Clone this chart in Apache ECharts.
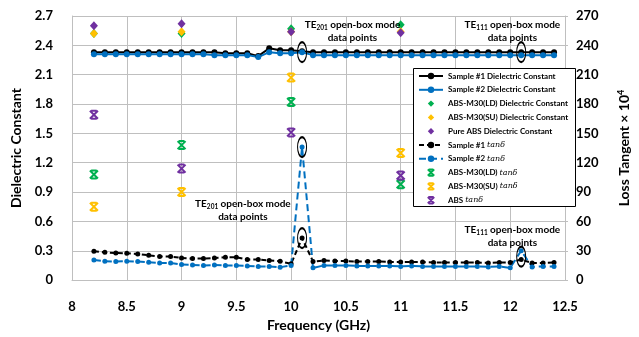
<!DOCTYPE html>
<html><head><meta charset="utf-8">
<script src="https://cdn.jsdelivr.net/npm/echarts@6/dist/echarts.min.js"></script>
<style>html,body{margin:0;padding:0;background:#fff}#c{width:639px;height:337px}</style>
</head><body><div id="c"></div>
<script>
const freq = [8.2,8.3,8.4,8.5,8.6,8.7,8.8,8.9,9.0,9.1,9.2,9.3,9.4,9.5,9.6,9.7,9.8,9.9,10.0,10.1,10.2,10.3,10.4,10.5,10.6,10.7,10.8,10.9,11.0,11.1,11.2,11.3,11.4,11.5,11.6,11.7,11.8,11.9,12.0,12.1,12.2,12.3,12.4];
const s1DC = [2.33,2.33,2.33,2.33,2.33,2.33,2.33,2.33,2.33,2.33,2.33,2.33,2.32,2.32,2.32,2.29,2.37,2.35,2.35,2.34,2.33,2.33,2.33,2.33,2.33,2.33,2.33,2.33,2.33,2.33,2.33,2.33,2.33,2.33,2.33,2.33,2.33,2.33,2.33,2.33,2.33,2.33,2.33];
const s2DC = [2.31,2.31,2.31,2.31,2.31,2.31,2.31,2.31,2.31,2.31,2.31,2.30,2.30,2.30,2.30,2.28,2.33,2.32,2.32,2.33,2.30,2.30,2.30,2.30,2.30,2.30,2.30,2.30,2.30,2.30,2.30,2.30,2.30,2.30,2.30,2.30,2.30,2.30,2.30,2.30,2.30,2.30,2.30];
const s1Tan = [29.4,28.4,27.7,27.4,26.7,25.4,24.0,24.0,22.7,22.0,22.0,22.7,23.4,23.4,21.0,21.0,20.0,19.3,16.6,43,19,20,19.5,19.5,19,19,19,18.5,18.5,18.5,18.5,18,18,18,18,18,17.5,18,18,21,17.5,17.5,18];
const s2Tan = [20.6,19.3,18.9,19.3,18.9,18.3,17.6,17.6,15.9,15.5,14.9,15.5,14.9,14.9,14.5,13.9,13.9,13.2,14.9,136,12.5,15,15,15,14.5,14.5,14.5,14.5,14,14.5,14,14,14,14,14,14,13.5,14,12.5,30,13.5,14,14];
const refFreq = [8.2, 9, 10, 11];
const ldDC = [2.52, 2.52, 2.57, 2.61];
const suDC = [2.52, 2.54, 2.54, 2.54];
const absDC = [2.60, 2.62, 2.54, 2.53];
const ldTan = [108, 138, 182, 98];
const suTan = [75, 90, 207, 130];
const absTan = [169, 114, 151, 107];
const leftTicks = {min:0, max:2.7, interval:0.3};
const rightTicks = {min:0, max:270, interval:30};
const xTicks = {min:8, max:12.5, interval:0.5};

const FONT = 'Lato';
const BLACK = '#000000', BLUE = '#0070C0', GREEN = '#00B050', YELLOW = '#FFC000', PURPLE = '#7030A0';
const zip = (xs, ys) => xs.map((x, i) => [x, ys[i]]);
const CROSS = 'path://M0,0L10,10M10,0L0,10M1.5,0L8.5,0M1.5,10L8.5,10';

const ellipse = (coords) => ({
  symbol: 'circle', symbolSize: [9, 20], silent: true,
  itemStyle: {color: 'rgba(0,0,0,0)', borderColor: '#000', borderWidth: 1.5},
  label: {show: false},
  data: coords.map(c => ({coord: c}))
});
const pointsOnly = (name, xs, ys, axis, symbol, size, style) => ({
  name, type: 'line', yAxisIndex: axis, data: zip(xs, ys), symbol, symbolSize: size,
  showAllSymbol: true, itemStyle: style, lineStyle: {width: 0, opacity: 0}
});

const chart = echarts.init(document.getElementById('c'));
const axisLabel = {fontFamily: FONT, fontWeight: 'bold', fontSize: 13, color: '#000'};
const nameStyle = {fontFamily: FONT, fontWeight: 'bold', fontSize: 14, color: '#000'};

chart.setOption({
  animation: false,
  grid: {left: 72, right: 61, top: 16, bottom: 54},
  xAxis: {
    type: 'value', min: xTicks.min, max: xTicks.max, interval: xTicks.interval,
    name: 'Frequency (GHz)', nameLocation: 'middle', nameGap: 37, nameTextStyle: nameStyle,
    axisLabel: Object.assign({margin: 20}, axisLabel),
    axisLine: {show: true, lineStyle: {color: '#bfbfbf'}}, axisTick: {show: false},
    splitLine: {show: true, lineStyle: {color: '#bfbfbf', width: 1}}
  },
  yAxis: [{
    type: 'value', min: leftTicks.min, max: leftTicks.max, interval: leftTicks.interval,
    name: 'Dielectric Constant', nameLocation: 'middle', nameGap: 42, nameTextStyle: nameStyle,
    axisLabel: Object.assign({margin: 19}, axisLabel),
    axisLine: {show: true, lineStyle: {color: '#bfbfbf'}}, axisTick: {show: false},
    splitLine: {show: true, lineStyle: {color: '#bfbfbf', width: 1}}
  }, {
    type: 'value', min: rightTicks.min, max: rightTicks.max, interval: rightTicks.interval,
    name: 'Loss Tangent × 10{sup|4}', nameLocation: 'middle', nameGap: 52,
    nameTextStyle: Object.assign({rich: {sup: {fontFamily: FONT, fontWeight: 'bold', fontSize: 9, verticalAlign: 'top', color: '#000'}}}, nameStyle),
    axisLabel: Object.assign({margin: 11}, axisLabel),
    axisLine: {show: true, lineStyle: {color: '#bfbfbf'}},
    axisTick: {show: true, length: 3, lineStyle: {color: '#bfbfbf'}},
    splitLine: {show: false}
  }],
  legend: {
    orient: 'vertical', left: 413, top: 68, itemWidth: 24, itemHeight: 8, itemGap: 3.8, z: 5,
    padding: [3, 6, 3, 5],
    textStyle: {fontFamily: FONT, fontWeight: 'bold', fontSize: 8, color: '#000', lineHeight: 10,
      rich: {i: {fontFamily: 'DejaVu Serif', fontStyle: 'italic', fontWeight: 'normal', fontSize: 8, lineHeight: 10, color: '#000'}}},
    formatter: n => n.replace('tanδ', '{i|tanδ}'),
    data: ['Sample #1 Dielectric Constant','Sample #2 Dielectric Constant','ABS-M30(LD) Dielectric Constant','ABS-M30(SU) Dielectric Constant','Pure ABS Dielectric Constant','Sample #1 tanδ','Sample #2 tanδ','ABS-M30(LD) tanδ','ABS-M30(SU) tanδ','ABS tanδ']
  },
  series: [
    {name: 'Sample #1 Dielectric Constant', type: 'line', data: zip(freq, s1DC), symbol: 'circle', symbolSize: 6,
      itemStyle: {color: BLACK}, lineStyle: {color: BLACK, width: 2}, markPoint: ellipse([[10.1, 2.33], [12.1, 2.33]])},
    {name: 'Sample #2 Dielectric Constant', type: 'line', data: zip(freq, s2DC), symbol: 'circle', symbolSize: 6,
      itemStyle: {color: BLUE}, lineStyle: {color: BLUE, width: 2}},
    pointsOnly('ABS-M30(LD) Dielectric Constant', refFreq, ldDC, 0, 'diamond', [8, 9], {color: GREEN}),
    pointsOnly('ABS-M30(SU) Dielectric Constant', refFreq, suDC, 0, 'diamond', [8, 9], {color: YELLOW}),
    pointsOnly('Pure ABS Dielectric Constant', refFreq, absDC, 0, 'diamond', [8, 9], {color: PURPLE}),
    {name: 'Sample #1 tanδ', type: 'line', yAxisIndex: 1, data: zip(freq, s1Tan), symbol: 'circle', symbolSize: 5,
      itemStyle: {color: BLACK}, lineStyle: {color: BLACK, width: 2, type: [5, 3]}, markPoint: ellipse([[10.1, 43], [12.1, 24]])},
    {name: 'Sample #2 tanδ', type: 'line', yAxisIndex: 1, data: zip(freq, s2Tan), symbol: 'circle', symbolSize: 5,
      itemStyle: {color: BLUE}, lineStyle: {color: BLUE, width: 2, type: [7, 4]}, markPoint: ellipse([[10.1, 136]])},
    pointsOnly('ABS-M30(LD) tanδ', refFreq, ldTan, 1, CROSS, 8, {color: 'rgba(0,0,0,0)', borderColor: GREEN, borderWidth: 2}),
    pointsOnly('ABS-M30(SU) tanδ', refFreq, suTan, 1, CROSS, 8, {color: 'rgba(0,0,0,0)', borderColor: YELLOW, borderWidth: 2}),
    pointsOnly('ABS tanδ', refFreq, absTan, 1, CROSS, 8, {color: 'rgba(0,0,0,0)', borderColor: PURPLE, borderWidth: 2})
  ]
});

const notes = [
  {x: 10.56, y: 2.68, mode: '201'},
  {x: 12.02, y: 2.68, mode: '111'},
  {x: 9.56, y: 0.85, mode: '201'},
  {x: 12.02, y: 0.58, mode: '111'}
];
const texts = notes.map(n => {
  const p = chart.convertToPixel({xAxisIndex: 0, yAxisIndex: 0}, [n.x, n.y]);
  return {
    type: 'text', x: p[0], y: p[1], z: 100, silent: true,
    style: {
      text: 'TE{s|' + n.mode + '} open-box mode\ndata points',
      align: 'center', verticalAlign: 'top',
      fontFamily: FONT, fontWeight: 'bold', fontSize: 10, lineHeight: 13, fill: '#000',
      rich: {s: {fontFamily: FONT, fontWeight: 'bold', fontSize: 6.5, verticalAlign: 'bottom', lineHeight: 13, fill: '#000'}}
    }
  };
});
texts.push({type: 'rect', z: 3, silent: true, shape: {x: 413.5, y: 68.5, width: 162, height: 138},
  style: {fill: '#fff', stroke: '#000', lineWidth: 1}});
chart.setOption({graphic: texts});
</script></body></html>
